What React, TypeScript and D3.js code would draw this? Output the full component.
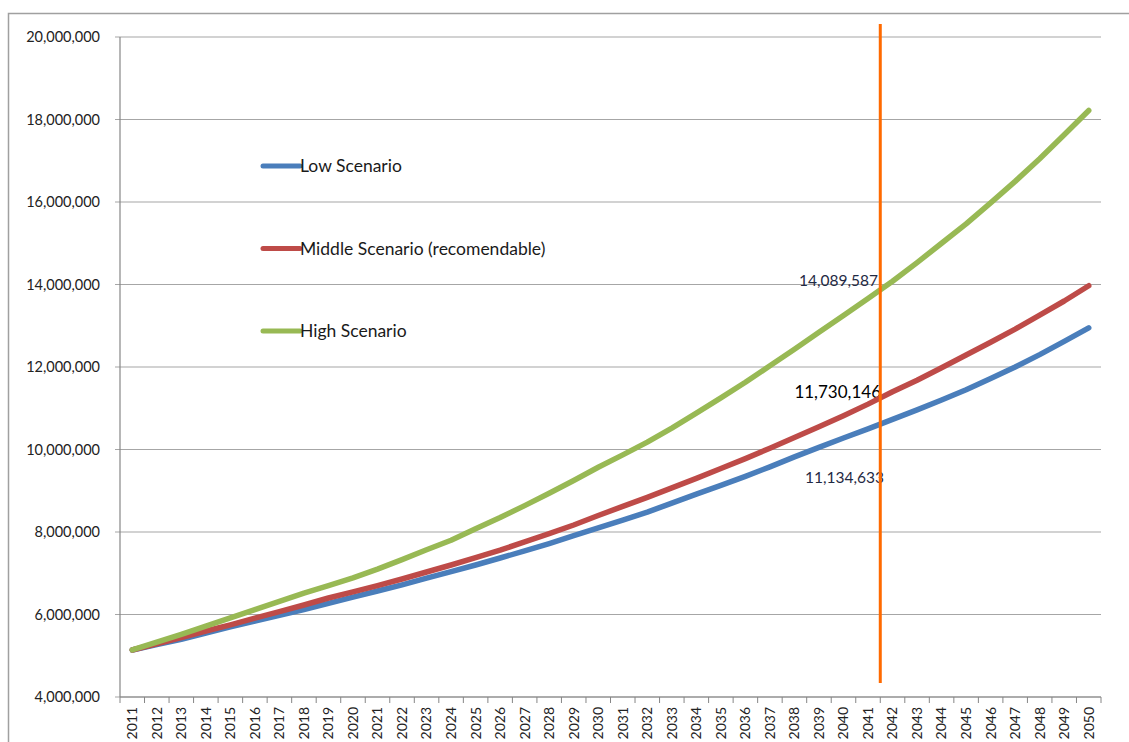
import React from "react";
import * as d3 from "d3";

const years: string[] = d3.range(2011, 2051).map(String);

const lowScenario: number[] = [
  5.14, 5.27, 5.4, 5.55, 5.7, 5.84, 5.98, 6.12, 6.27, 6.42,
  6.57, 6.72, 6.88, 7.04, 7.2, 7.37, 7.54, 7.72, 7.91, 8.1,
  8.29, 8.48, 8.7, 8.92, 9.13, 9.35, 9.58, 9.82, 10.05, 10.28,
  10.5, 10.73, 10.96, 11.2, 11.45, 11.72, 12.0, 12.3, 12.62, 12.95,
].map((v) => v * 1e6);

const middleScenario: number[] = [
  5.14, 5.29, 5.44, 5.6, 5.75, 5.91, 6.07, 6.23, 6.4, 6.55,
  6.7, 6.86, 7.03, 7.2, 7.38, 7.56, 7.76, 7.96, 8.17, 8.4,
  8.62, 8.84, 9.07, 9.3, 9.54, 9.78, 10.03, 10.29, 10.55, 10.82,
  11.1, 11.4, 11.68, 11.98, 12.29, 12.6, 12.92, 13.26, 13.6, 13.97,
].map((v) => v * 1e6);

const highScenario: number[] = [
  5.14, 5.33, 5.52, 5.72, 5.92, 6.12, 6.32, 6.52, 6.7, 6.89,
  7.1, 7.33, 7.57, 7.8, 8.08, 8.35, 8.64, 8.94, 9.25, 9.57,
  9.87, 10.18, 10.52, 10.88, 11.25, 11.63, 12.03, 12.43, 12.84, 13.25,
  13.66, 14.08, 14.53, 15.0, 15.47, 15.98, 16.5, 17.05, 17.63, 18.22,
].map((v) => v * 1e6);

const yTicks: number[] = [4e6, 6e6, 8e6, 10e6, 12e6, 14e6, 16e6, 18e6, 20e6];

const seriesNames: string[] = ["Low Scenario", "Middle Scenario (recomendable)", "High Scenario"];
const seriesColors: string[] = ["#4A7EBB", "#BE4B48", "#98B954"];

const markerYear = "2042";
const annotations: { text: string; value: number }[] = [
  { text: "14,089,587", value: 14.1e6 },
  { text: "11,730,146", value: 11.39e6 },
  { text: "11,134,633", value: 9.33e6 },
];

const FONT = "Lato, 'Open Sans', sans-serif";

export default function App() {
  const left = 120, right = 1101, top = 37, bottom = 697;
  const x = d3.scaleBand<string>().domain(years).range([left, right]).padding(0);
  const y = d3.scaleLinear().domain([4e6, 20e6]).range([bottom, top]);
  const cx = (yr: string) => (x(yr) as number) + x.bandwidth() / 2;
  const line = d3
    .line<number>()
    .x((_, i) => cx(years[i]))
    .y((d) => y(d));
  const series = [lowScenario, middleScenario, highScenario];
  const fmt = d3.format(",");
  const markerX = x(markerYear) as number;

  return (
    <svg width={1129} height={742} style={{ position: "absolute", left: 0, top: 0, background: "#fff" }} fontFamily={FONT}>
      <rect x={8.5} y={13.5} width={1130} height={740} fill="#fff" stroke="#A0A0A0" strokeWidth={1.5} />
      {yTicks.map((t) => (
        <line key={t} x1={left - 5} x2={right} y1={y(t)} y2={y(t)} stroke="#A6A6A6" strokeWidth={1.2} />
      ))}
      {yTicks.map((t) => (
        <text key={"l" + t} x={100} y={y(t)} dy="0.35em" textAnchor="end" fontSize={14.5} fill="#222">
          {fmt(t)}
        </text>
      ))}
      <line x1={left} x2={left} y1={top} y2={bottom} stroke="#868686" strokeWidth={1.2} />
      <line x1={left} x2={right} y1={bottom} y2={bottom} stroke="#868686" strokeWidth={1.2} />
      {years.map((yr) => (
        <line key={"t" + yr} x1={x(yr) as number} x2={x(yr) as number} y1={bottom} y2={bottom + 6} stroke="#868686" />
      ))}
      <line x1={right} x2={right} y1={bottom} y2={bottom + 6} stroke="#868686" />
      {years.map((yr) => (
        <text
          key={"x" + yr}
          transform={`translate(${cx(yr)},${bottom + 10}) rotate(-90)`}
          textAnchor="end"
          dy="0.35em"
          fontSize={14}
          fill="#222"
        >
          {yr}
        </text>
      ))}
      <text x={878} y={y(annotations[0].value)} dy="0.35em" textAnchor="end" fontSize={15.5} fill="#1F2A44">
        {annotations[0].text}
      </text>
      <text x={881} y={y(annotations[1].value)} dy="0.35em" textAnchor="end" fontSize={17} fill="#000">
        {annotations[1].text}
      </text>
      <text x={884} y={y(annotations[2].value)} dy="0.35em" textAnchor="end" fontSize={15.5} fill="#1F2A44">
        {annotations[2].text}
      </text>
      {series.map((s, i) => (
        <path key={"s" + i} d={line(s) || ""} fill="none" stroke={seriesColors[i]} strokeWidth={5.5} strokeLinejoin="round" strokeLinecap="round" />
      ))}
      {seriesNames.map((n, i) => (
        <g key={"g" + n} transform={`translate(263,${166 + i * 82.5})`}>
          <line x1={0} x2={37} y1={0} y2={0} stroke={seriesColors[i]} strokeWidth={5} strokeLinecap="round" />
          <text x={37} y={0} dy="0.35em" fontSize={17.5} fill="#1a1a1a">
            {n}
          </text>
        </g>
      ))}
      <line x1={markerX} x2={markerX} y1={24} y2={683} stroke="#FF6A00" strokeWidth={3} />
    </svg>
  );
}
